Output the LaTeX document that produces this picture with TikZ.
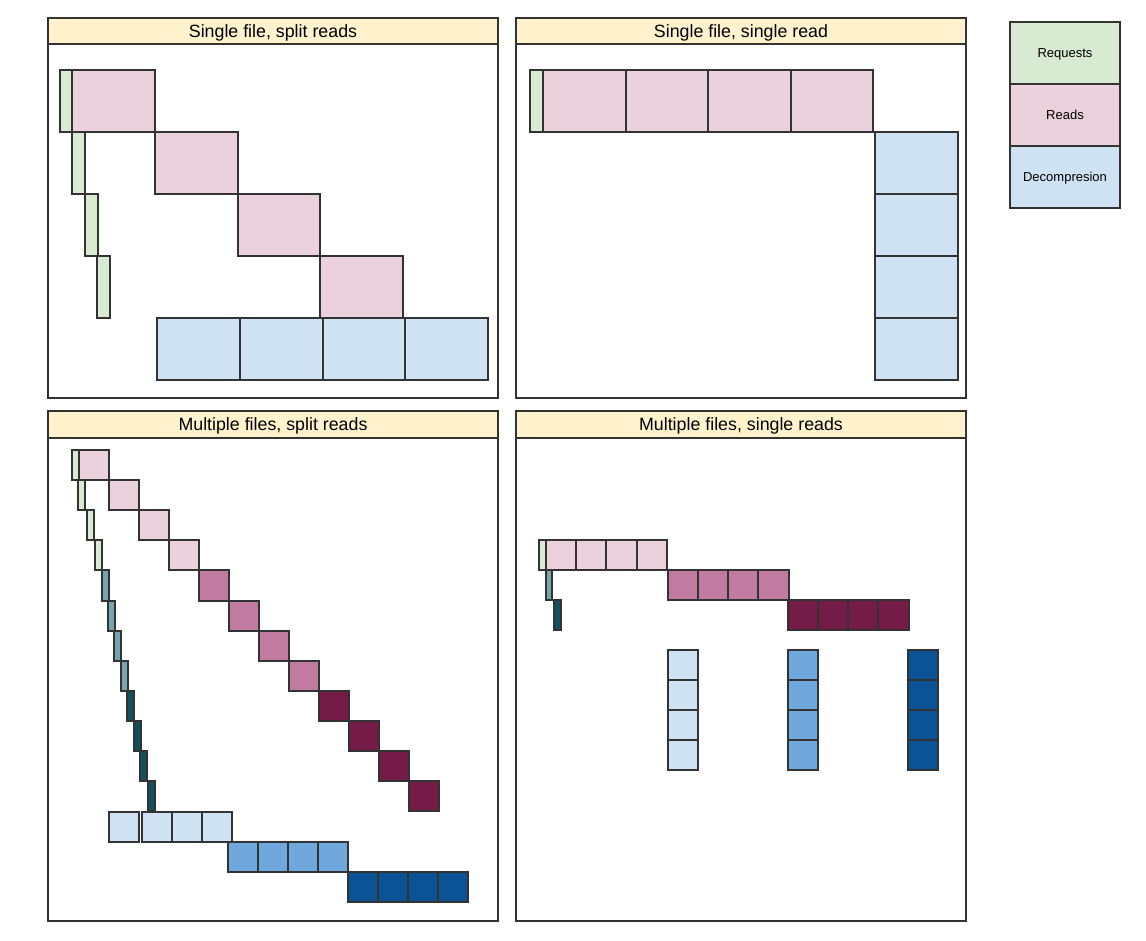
\documentclass[tikz,border=0pt]{standalone}
\usepackage{fontspec}
\setmainfont{Liberation Sans}
\usetikzlibrary{positioning,calc}
\definecolor{edge}{HTML}{333333}
\definecolor{titlebg}{HTML}{FFF2CC}
\definecolor{reqA}{HTML}{D9EAD3}
\definecolor{reqB}{HTML}{76A5AF}
\definecolor{reqC}{HTML}{134F5C}
\definecolor{rdA}{HTML}{EAD1DC}
\definecolor{rdB}{HTML}{C27BA0}
\definecolor{rdC}{HTML}{741B47}
\definecolor{decA}{HTML}{CFE2F3}
\definecolor{decB}{HTML}{6FA8DC}
\definecolor{decC}{HTML}{0B5394}
\tikzstyle{blk}=[draw=edge,line width=2pt]
\tikzstyle{panel}=[draw=edge,line width=2pt]
\tikzstyle{bar}=[draw=edge,line width=2pt,fill=titlebg]
\tikzstyle{ttl}=[text depth=0pt,font=\fontsize{17.8}{21}\selectfont]
\tikzstyle{leg}=[draw=edge,line width=2pt,outer sep=0pt,minimum width=110pt,minimum height=62pt,text depth=0pt,font=\fontsize{13}{15}\selectfont]

\begin{document}
\begin{tikzpicture}[x=1pt,y=-1pt]
\useasboundingbox (0,0) rectangle (1146,941);
% panels
\draw[panel] (48,18) rectangle (498,398);
\draw[bar] (48,18) rectangle (498,44);
\node[ttl] (t1) at (273,31) {Single file, split reads};
\draw[panel] (516,18) rectangle (966,398);
\draw[bar] (516,18) rectangle (966,44);
\node[ttl] (t2) at (741,31) {Single file, single read};
\draw[panel] (48,411) rectangle (498,921);
\draw[bar] (48,411) rectangle (498,438);
\node[ttl] (t3) at (273,424.5) {Multiple files, split reads};
\draw[panel] (516,411) rectangle (966,921);
\draw[bar] (516,411) rectangle (966,438);
\node[ttl] (t4) at (741,424.5) {Multiple files, single reads};

% single file, split reads
\foreach \i/\x in {0/60,1/72,2/85,3/97}
  \draw[blk,fill=reqA] (\x,{70+62*\i}) rectangle ++(12.5,62);
\foreach \i in {0,...,3}
  \draw[blk,fill=rdA] ({72+82.75*\i},{70+62*\i}) rectangle ++(82.75,62);
\foreach \i in {0,...,3}
  \draw[blk,fill=decA] ({157+82.75*\i},318) rectangle ++(82.75,62);

% single file, single read
\draw[blk,fill=reqA] (530,70) rectangle (543,132);
\foreach \i in {0,...,3}
  \draw[blk,fill=rdA] ({543+82.5*\i},70) rectangle ++(82.5,62);
\foreach \i in {0,...,3}
  \draw[blk,fill=decA] (875,{132+62*\i}) rectangle ++(83,62);

% multiple files, split reads
\foreach \x/\c [count=\i from 0] in {72/reqA,78/reqA,87/reqA,95/reqA,
    102/reqB,108/reqB,114/reqB,121/reqB,127/reqC,134/reqC,140/reqC,148/reqC}
  \draw[blk,fill=\c] (\x,{450+30.1*\i}) rectangle ++(6.8,30.1);
\foreach \c [count=\i from 0] in {rdA,rdA,rdA,rdA,rdB,rdB,rdB,rdB,rdC,rdC,rdC,rdC}
  \draw[blk,fill=\c] ({78.5+30*\i},{450+30.1*\i}) rectangle ++(30,30.1);
\foreach \x in {109,142,172,202}
  \draw[blk,fill=decA] (\x,811.5) rectangle ++(30,30);
\foreach \i in {0,...,3}
  \draw[blk,fill=decB] ({228+30*\i},841.5) rectangle ++(30,30);
\foreach \i in {0,...,3}
  \draw[blk,fill=decC] ({348+30*\i},871.5) rectangle ++(30,30);

% multiple files, single reads
\draw[blk,fill=reqA] (539,540) rectangle ++(6.7,30);
\draw[blk,fill=reqB] (545.7,570) rectangle ++(6.7,30);
\draw[blk,fill=reqC] (554,600) rectangle ++(7,30);
\foreach \x/\y/\c in {545.7/540/rdA,667.5/570/rdB,787.5/600/rdC}
  \foreach \i in {0,...,3}
    \draw[blk,fill=\c] ({\x+30.3*\i},\y) rectangle ++(30.3,30);
\foreach \x/\c in {667.5/decA,787.5/decB,907.5/decC}
  \foreach \i in {0,...,3}
    \draw[blk,fill=\c] (\x,{650+30*\i}) rectangle ++(30,30);

% legend
\node[leg,fill=reqA] (lreq) at (1065,53) {Requests};
\node[leg,fill=rdA,below=0pt of lreq] (lrd) {Reads};
\node[leg,fill=decA,below=0pt of lrd] (ldec) {Decompresion};
\end{tikzpicture}
\end{document}
